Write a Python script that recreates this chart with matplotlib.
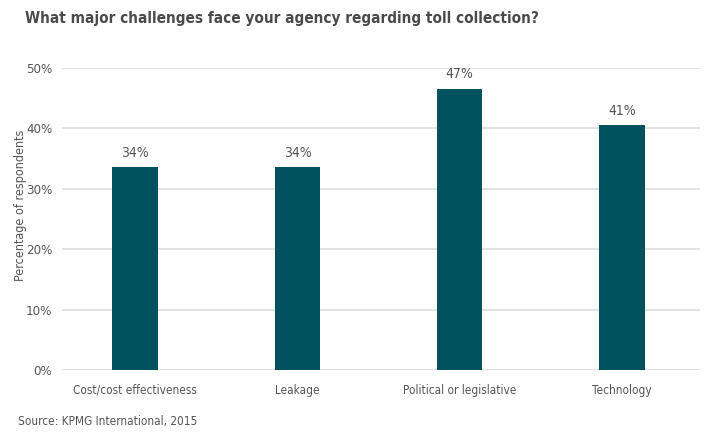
import matplotlib
matplotlib.use('Agg')
import matplotlib.pyplot as plt

# data
categories = ['Cost/cost effectiveness', 'Leakage', 'Political or legislative', 'Technology']
values = [33.6, 33.6, 46.6, 40.6]
yticks = [0, 10, 20, 30, 40, 50]

plt.rcParams['font.family'] = ['DejaVu Sans']
plt.rcParams['font.stretch'] = 'condensed'

fig = plt.figure(figsize=(7.12, 4.41), dpi=100)
ax = fig.add_axes([62/712, 71/441, 638/712, 302/441])

bar_color = '#00525f'
text_gray = '#555555'
x = range(len(categories))
bars = ax.bar(x, values, width=0.28, color=bar_color, zorder=3)
for b, v in zip(bars, values):
    ax.text(b.get_x() + b.get_width() / 2, v + 1.2, f'{round(v)}%',
            ha='center', va='bottom', fontsize=10, color=text_gray)

ax.set_xlim(-0.45, 3.48)
ax.set_ylim(0, 50)
ax.set_yticks(yticks)
ax.set_yticklabels([f'{t}%' for t in yticks])
ax.set_xticks(list(x))
ax.set_xticklabels(categories)
ax.yaxis.grid(True, color='#dddddd', linewidth=1.2, zorder=0)
ax.tick_params(axis='both', length=0, colors=text_gray)
ax.tick_params(axis='y', pad=7, labelsize=9.5)
ax.tick_params(axis='x', pad=10, labelsize=8.5)
for s in ax.spines.values():
    s.set_visible(False)

fig.text(21/712, 1 - 205/441, 'Percentage of respondents', rotation=90,
         ha='center', va='center', fontsize=9, color=text_gray)
fig.text(25/712, 1 - 19/441, 'What major challenges face your agency regarding toll collection?',
         ha='left', va='center', fontsize=11, fontweight='bold', color='#4a4a4a')
fig.text(18/712, 1 - 422/441, 'Source: KPMG International, 2015',
         ha='left', va='center', fontsize=8.5, color=text_gray)

fig.savefig('out.png', dpi=100)
